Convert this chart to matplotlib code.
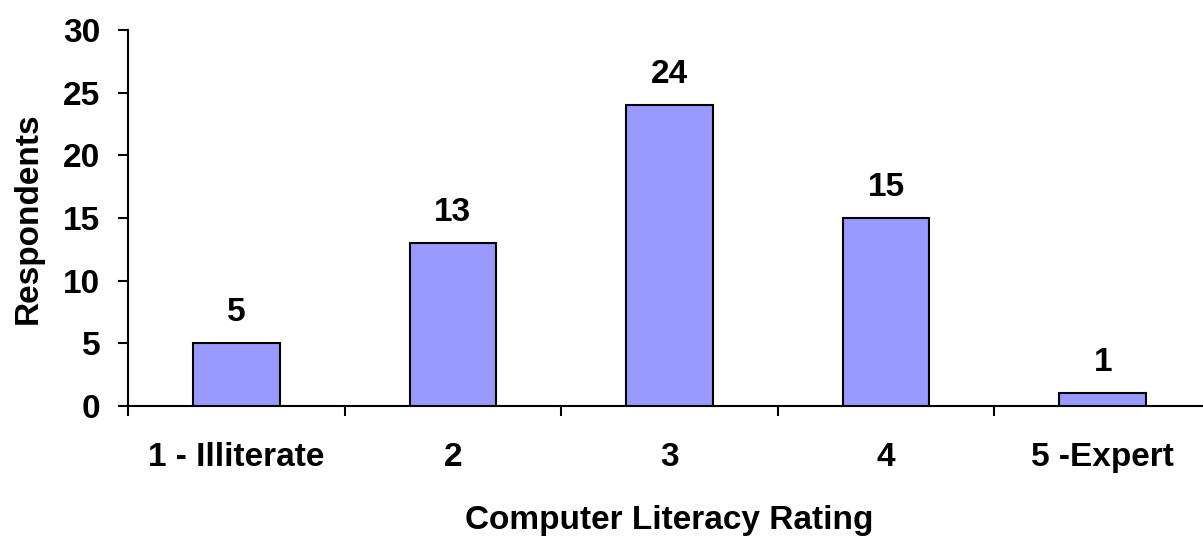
import numpy as np
import matplotlib
matplotlib.use("Agg")
import matplotlib.pyplot as plt

# survey data
categories = ["1 - Illiterate", "2", "3", "4", "5 -Expert"]
respondents = [5, 13, 24, 15, 1]

plt.rcParams['font.family'] = ['Liberation Sans', 'DejaVu Sans']
plt.rcParams['font.weight'] = 'bold'

fig = plt.figure(figsize=(12.03, 5.36), dpi=100)
ax = fig.add_axes([128 / 1203, 130 / 536, 1083 / 1203, 376 / 536])

x = np.arange(len(categories))
bars = ax.bar(x, respondents, width=0.4, color='#9999FF', edgecolor='black', linewidth=1.5, zorder=3)

fs = 24
for xi, v in zip(x, respondents):
    ax.annotate(str(v), (xi, v), xytext=(0, 11), textcoords='offset points',
                ha='center', va='bottom', fontsize=fs, fontweight='bold')

ax.set_xlim(-0.5, len(categories) - 0.5)
ax.set_ylim(0, 30)
ax.set_yticks(range(0, 31, 5))

# categories labelled in the middle, ticks between them
ax.set_xticks(np.arange(-0.5, len(categories), 1.0))
ax.set_xticklabels([])
ax.set_xticks(x, minor=True)
ax.set_xticklabels(categories, minor=True)
ax.tick_params(axis='x', which='major', direction='out', length=7, width=1.5)
ax.tick_params(axis='x', which='minor', length=0, pad=26, labelsize=fs)
ax.tick_params(axis='y', direction='out', length=7, width=1.5, pad=13, labelsize=fs)

for s in ['top', 'right']:
    ax.spines[s].set_visible(False)
ax.spines['left'].set_linewidth(1.5)
ax.spines['bottom'].set_linewidth(1.5)

ax.set_xlabel('Computer Literacy Rating', fontsize=fs, fontweight='bold', labelpad=23)
ax.set_ylabel('Respondents', fontsize=fs, fontweight='bold', labelpad=14)

fig.savefig('out.png', dpi=100)
